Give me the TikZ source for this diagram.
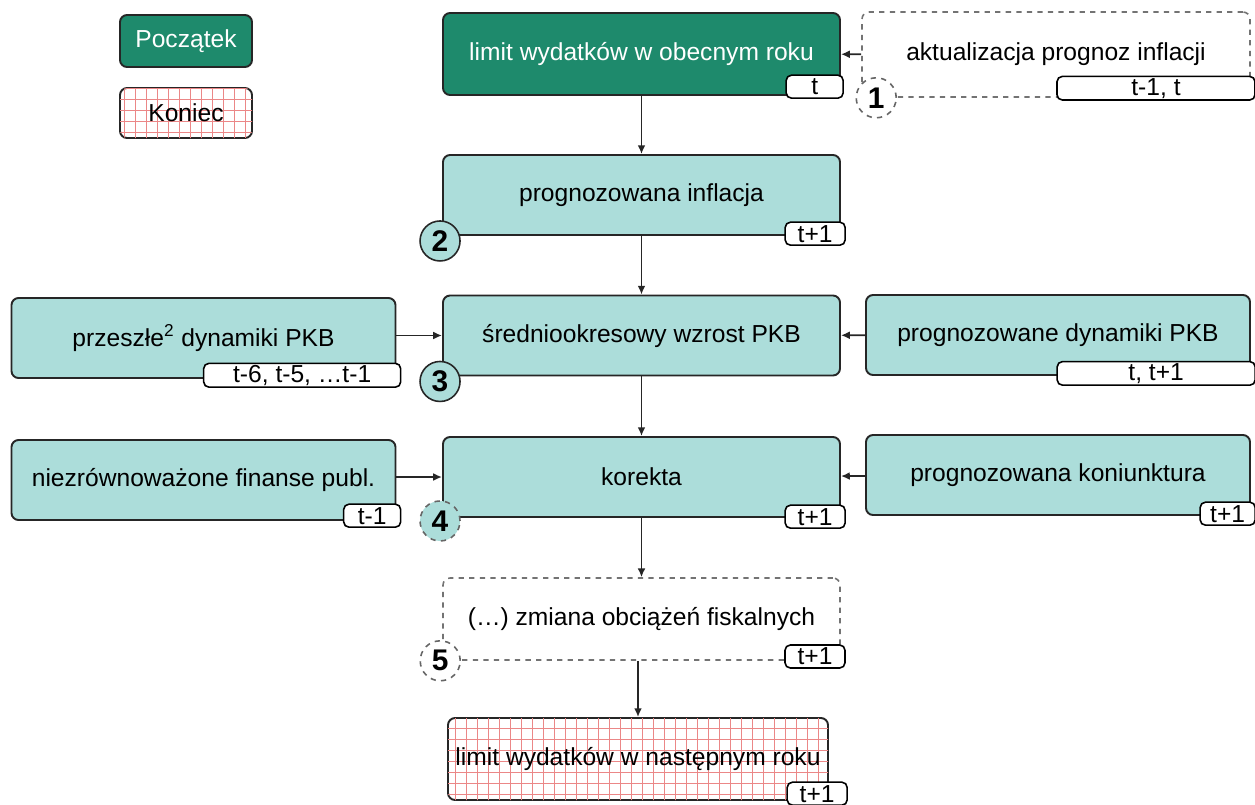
\documentclass[tikz,border=0pt]{standalone}
\usepackage{fontspec}
\setmainfont{Liberation Sans}
\usetikzlibrary{positioning,arrows.meta,patterns.meta}
\definecolor{ciemnyziel}{RGB}{30,138,108}
\definecolor{turkus}{RGB}{172,221,218}
\definecolor{siatka}{RGB}{235,135,135}
\begin{document}
\begin{tikzpicture}[
    every node/.style={align=center, font=\fontsize{14}{16}\selectfont},
    box/.style={draw=black!85, line width=1.1pt, rounded corners=4pt, minimum height=1.6cm, inner sep=2pt},
    mainbox/.style={box, minimum width=7.94cm},
    sidebox/.style={box, fill=turkus, minimum width=7.68cm},
    startbox/.style={box, fill=ciemnyziel, text=white},
    endbox/.style={box, fill=white, postaction={pattern={Hatch[angle=0,distance=6.5pt,line width=0.4pt]}, pattern color=siatka}},
    dashbox/.style={box, draw=black!55, line width=0.9pt, dashed},
    tag/.style={draw=black, line width=0.9pt, fill=white, rounded corners=3pt, minimum height=0.46cm, inner sep=1pt, anchor=south east},
    num/.style={circle, draw=black!85, line width=0.9pt, minimum size=0.8cm, inner sep=0pt, font=\fontsize{17}{17}\selectfont\bfseries},
    arr/.style={-{Latex[length=5pt,width=4.5pt]}, line width=1pt, black!85}
]
\useasboundingbox (0,0) rectangle (25.1,-16.1);

\node[startbox, minimum width=2.64cm, minimum height=1.04cm] (legstart) at (3.72,-0.82) {Początek};
\node[endbox, minimum width=2.64cm, minimum height=1.0cm] (legend) at (3.72,-2.26) {Koniec};

\node[mainbox, startbox, minimum height=1.64cm] (start) at (12.83,-1.08) {limit wydatków w obecnym roku};
\node[mainbox, fill=turkus] (infl) at (12.83,-3.9) {prognozowana inflacja};
\node[mainbox, fill=turkus] (wzrost) at (12.83,-6.71) {średniookresowy wzrost PKB};
\node[mainbox, fill=turkus] (korekta) at (12.83,-9.54) {korekta};
\node[mainbox, dashbox, minimum height=1.64cm] (zmiana) at (12.83,-12.38) {(…) zmiana obciążeń fiskalnych};
\node[endbox, minimum width=7.6cm, minimum height=1.64cm] (koniec) at (12.76,-15.18) {limit wydatków w następnym roku};

\node[dashbox, minimum width=7.76cm, minimum height=1.7cm] (aktual) at (21.12,-1.09) {aktualizacja prognoz inflacji};
\node[sidebox] (przeszle) at (4.07,-6.76) {przeszłe\textsuperscript{2} dynamiki PKB};
\node[sidebox] (progdyn) at (21.16,-6.7) {prognozowane dynamiki PKB};
\node[sidebox] (finanse) at (4.07,-9.6) {niezrównoważone finanse publ.};
\node[sidebox] (koniunk) at (21.16,-9.5) {prognozowana koniunktura};

\node[tag, minimum width=1.14cm] (tstart) at ([shift={(0.06,-0.06)}]start.south east) {t};
\node[tag, minimum width=3.96cm] (taktual) at ([shift={(0.1,-0.06)}]aktual.south east) {t-1, t};
\node[tag, minimum width=1.2cm] (tinfl) at ([shift={(0.1,-0.2)}]infl.south east) {t+1};
\node[tag, minimum width=3.94cm] (tprzeszle) at ([shift={(0.1,-0.18)}]przeszle.south east) {t-6, t-5, …t-1};
\node[tag, minimum width=3.96cm] (tprogdyn) at ([shift={(0.1,-0.2)}]progdyn.south east) {t, t+1};
\node[tag, minimum width=1.14cm] (tfinanse) at ([shift={(0.1,-0.14)}]finanse.south east) {t-1};
\node[tag, minimum width=1.2cm] (tkorekta) at ([shift={(0.1,-0.22)}]korekta.south east) {t+1};
\node[tag, minimum width=1.1cm] (tkoniunk) at ([shift={(0.1,-0.2)}]koniunk.south east) {t+1};
\node[tag, minimum width=1.2cm] (tzmiana) at ([shift={(0.1,-0.16)}]zmiana.south east) {t+1};
\node[tag, minimum width=1.2cm] (tkoniec) at ([shift={(0.38,-0.1)}]koniec.south east) {t+1};

\node[num, dashed, draw=black!60, fill=white] (n1) at ([xshift=0.3cm]aktual.south west) {1};
\node[num, fill=turkus] (n2) at ([shift={(-0.04,-0.1)}]infl.south west) {2};
\node[num, fill=turkus] (n3) at ([shift={(-0.04,-0.1)}]wzrost.south west) {3};
\node[num, dashed, draw=black!60, fill=turkus] (n4) at ([shift={(-0.04,-0.06)}]korekta.south west) {4};
\node[num, dashed, draw=black!60, fill=white] (n5) at ([shift={(-0.04,0)}]zmiana.south west) {5};

\draw[arr] (aktual) -- (start);
\draw[arr] (start) -- (infl);
\draw[arr] (infl) -- (wzrost);
\draw[arr] (przeszle.east |- wzrost) -- (wzrost);
\draw[arr] (progdyn) -- (wzrost);
\draw[arr] (wzrost) -- (korekta);
\draw[arr] (finanse.east |- korekta) -- (korekta);
\draw[arr] (koniunk) -- (korekta);
\draw[arr] (korekta) -- (zmiana);
\draw[arr] (zmiana.south -| koniec) -- (koniec);
\end{tikzpicture}
\end{document}
